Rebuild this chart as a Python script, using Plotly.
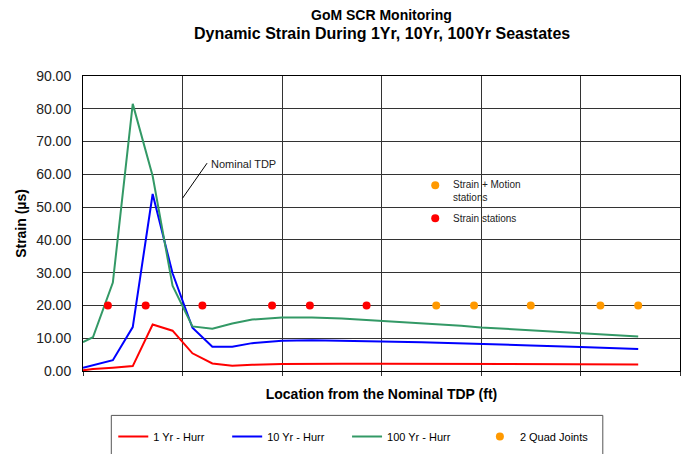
import plotly.graph_objects as go

# ---------------- data ----------------
location_ft = [0, 10, 30, 50, 70, 90, 110, 130, 150, 170, 200, 230, 260, 300, 340, 380, 400, 450, 500, 558]
strain_1yr = [0.2, 0.6, 1.0, 1.5, 14.2, 12.3, 5.4, 2.3, 1.6, 1.9, 2.1, 2.2, 2.2, 2.2, 2.2, 2.1, 2.1, 2.0, 2.0, 2.0]
strain_10yr = [1.0, 1.7, 3.3, 13.4, 54.0, 29.8, 13.2, 7.4, 7.4, 8.5, 9.2, 9.4, 9.3, 9.0, 8.8, 8.5, 8.2, 7.8, 7.3, 6.7]
strain_100yr = [8.8, 10.3, 27.0, 81.5, 59.5, 26.0, 13.6, 12.9, 14.5, 15.7, 16.3, 16.3, 16.0, 15.3, 14.5, 13.8, 13.3, 12.4, 11.5, 10.5]

strain_station_x = [25, 63, 120, 190, 228, 285]
strain_station_y = [20, 20, 20, 20, 20, 20]
quad_joint_x = [355, 393, 450, 520, 558]
quad_joint_y = [20, 20, 20, 20, 20]

nominal_tdp_x = 100
y_ticks = [0, 10, 20, 30, 40, 50, 60, 70, 80, 90]
y_tick_labels = [f"{v:.2f}" for v in y_ticks]

# key markers drawn inside the plot
key_x = [354, 354]
key_y = [56.7, 46.6]
key_labels = ["Strain + Motion<br>stations", "Strain stations"]
key_colors = ["#FF9900", "#FF0000"]

FONT = "Arial, Liberation Sans, sans-serif"
RED, BLUE, GREEN, ORANGE = "#FF0000", "#0000FF", "#339966", "#FF9900"

fig = go.Figure()
fig.add_trace(go.Scatter(x=location_ft, y=strain_1yr, mode="lines", name="1 Yr - Hurr",
                         line=dict(color=RED, width=2), legend="legend"))
fig.add_trace(go.Scatter(x=location_ft, y=strain_10yr, mode="lines", name="10 Yr - Hurr",
                         line=dict(color=BLUE, width=2), legend="legend2"))
fig.add_trace(go.Scatter(x=location_ft, y=strain_100yr, mode="lines", name="100 Yr - Hurr",
                         line=dict(color=GREEN, width=2), legend="legend3"))
fig.add_trace(go.Scatter(x=strain_station_x, y=strain_station_y, mode="markers", name="Strain stations",
                         marker=dict(color=RED, size=8), showlegend=False))
fig.add_trace(go.Scatter(x=quad_joint_x, y=quad_joint_y, mode="markers", name="2 Quad Joints",
                         marker=dict(color=ORANGE, size=8), legend="legend4"))
fig.add_trace(go.Scatter(x=key_x, y=key_y, mode="markers", showlegend=False,
                         marker=dict(color=key_colors, size=8), hoverinfo="skip"))

annotations = []
annotations.append(dict(x=key_x[0], y=key_y[0], xref="x", yref="y", text=key_labels[0], showarrow=False,
                        xanchor="left", yanchor="top", xshift=16, yshift=8, align="left",
                        font=dict(family=FONT, size=10, color="#222")))
annotations.append(dict(x=key_x[1], y=key_y[1], xref="x", yref="y", text=key_labels[1], showarrow=False,
                        xanchor="left", yanchor="middle", xshift=16, align="left",
                        font=dict(family=FONT, size=10, color="#222")))
# Nominal TDP call-out
annotations.append(dict(x=nominal_tdp_x, y=52.7, xref="x", yref="y", text="", showarrow=True,
                        arrowhead=0, arrowwidth=1, arrowcolor="#000", ax=25.6, ay=-36.6))
annotations.append(dict(x=nominal_tdp_x, y=52.7, xref="x", yref="y", text="Nominal TDP", showarrow=False,
                        xanchor="left", yanchor="middle", xshift=26, yshift=34,
                        font=dict(family=FONT, size=11, color="#222")))
# titles
annotations.append(dict(x=0.5, y=1.2068, xref="paper", yref="paper", text="<b>GoM SCR Monitoring</b>",
                        showarrow=False, xanchor="center", yanchor="middle",
                        font=dict(family=FONT, size=14, color="#000")))
annotations.append(dict(x=0.5, y=1.1424, xref="paper", yref="paper",
                        text="<b>Dynamic Strain During 1Yr, 10Yr, 100Yr Seastates</b>",
                        showarrow=False, xanchor="center", yanchor="middle",
                        font=dict(family=FONT, size=16, color="#000")))

leg_common = dict(orientation="h", xanchor="left", y=-0.1729, yanchor="top",
                  font=dict(family=FONT, size=11, color="#000"), borderwidth=0,
                  bgcolor="rgba(0,0,0,0)")

fig.update_layout(
    width=689, height=454,
    margin=dict(l=83, r=9, t=76, b=83, pad=0, autoexpand=False),
    paper_bgcolor="white", plot_bgcolor="white",
    font=dict(family=FONT, color="#000"),
    showlegend=True,
    legend=dict(x=0.0507, **leg_common),
    legend2=dict(x=0.2415, **leg_common),
    legend3=dict(x=0.4423, **leg_common),
    legend4=dict(x=0.6648, **leg_common),
    annotations=annotations,
    shapes=[dict(type="rect", xref="paper", yref="paper", x0=0.0474, x1=0.8707, y0=-0.1505, y1=-0.34,
                 line=dict(color="#555", width=1), fillcolor="rgba(0,0,0,0)", layer="below")],
    xaxis=dict(range=[0, 600], dtick=100, tick0=0, showticklabels=False, ticks="outside", ticklen=4,
               tickcolor="#333", showgrid=True, gridcolor="#333", gridwidth=1, zeroline=False,
               showline=True, linecolor="#000", linewidth=1, mirror=True, automargin=False,
               title=dict(text="<b>Location from the Nominal TDP (ft)</b>", standoff=14,
                          font=dict(family=FONT, size=14, color="#000"))),
    yaxis=dict(range=[0, 90], tickvals=y_ticks, ticktext=y_tick_labels, ticks="",
               ticklabelstandoff=8, automargin=False,
               tickfont=dict(family=FONT, size=14, color="#222"),
               showgrid=True, gridcolor="#333", gridwidth=1, zeroline=False,
               showline=True, linecolor="#000", linewidth=1, mirror=True,
               title=dict(text="<b>Strain (µs)</b>", standoff=6,
                          font=dict(family=FONT, size=14, color="#000"))),
    yaxis2=dict(range=[0, 90], overlaying="y", anchor="free", position=nominal_tdp_x / 600,
                tickvals=y_ticks, showticklabels=False, ticks="outside", ticklen=4, tickcolor="#000",
                showgrid=False, zeroline=False, showline=True, linecolor="#000", linewidth=1,
                automargin=False),
)

fig.write_html("out.html", config={"displayModeBar": False},
               post_script="document.body.style.margin='0px';")
